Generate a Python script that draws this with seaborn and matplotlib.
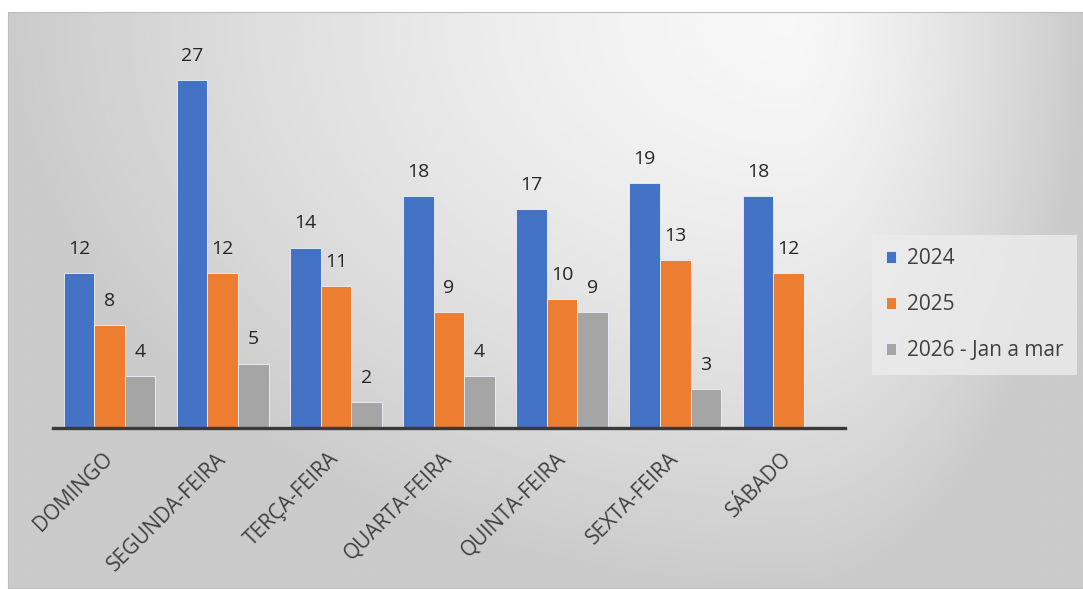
import numpy as np
import pandas as pd
import matplotlib
matplotlib.use("Agg")
import matplotlib.pyplot as plt
import seaborn as sns

dias = ["DOMINGO", "SEGUNDA-FEIRA", "TERÇA-FEIRA", "QUARTA-FEIRA",
        "QUINTA-FEIRA", "SEXTA-FEIRA", "SÁBADO"]
v2024 = [12, 27, 14, 18, 17, 19, 18]
v2025 = [8, 12, 11, 9, 10, 13, 12]
v2026 = [4, 5, 2, 4, 9, 3, np.nan]
series = ["2024", "2025", "2026 - Jan a mar"]
colors = ["#4472C4", "#ED7D31", "#A5A5A5"]

df = pd.DataFrame({
    "dia": dias * 3,
    "serie": [series[0]] * 7 + [series[1]] * 7 + [series[2]] * 7,
    "valor": v2024 + v2025 + v2026,
})

sns.set_theme(style="white")
plt.rcParams["font.family"] = ["Open Sans", "DejaVu Sans"]

W, H = 1083, 589
fig = plt.figure(figsize=(W / 100, H / 100), dpi=100)
fig.patch.set_facecolor("white")

# background panel with radial gradient
fx0, fy0, fx1, fy1 = 8, 12, 1083, 588
bg = fig.add_axes([fx0 / W, 1 - fy1 / H, (fx1 - fx0) / W, (fy1 - fy0) / H], zorder=-5)
xs = np.linspace(fx0, fx1, 400)
ys = np.linspace(fy0, fy1, 240)
X, Y = np.meshgrid(xs, ys)
cx, cy = 790, 20
U = np.where(X < cx, (X - cx) / (cx - fx0), (X - cx) / (fx1 - cx))
Vv = (Y - cy) / (fy1 - cy)
D = np.clip(np.sqrt(U ** 2 + Vv ** 2), 0, 1) ** 1.4
light, dark = 0.97, 0.795
img = light * (1 - D) + dark * D
bg.imshow(img, cmap="gray", vmin=0, vmax=1, aspect="auto",
          extent=[0, 1, 0, 1], interpolation="bilinear")
bg.set_xticks([]); bg.set_yticks([])
for s in bg.spines.values():
    s.set_color("#bdbdbd"); s.set_linewidth(0.8)

# main axes
ax_l, ax_r = 53, 845
ax_b = 428
ymax = 30
ppu = (428 - 80) / 27.0
ax_t = ax_b - ymax * ppu
ax = fig.add_axes([ax_l / W, 1 - ax_b / H, (ax_r - ax_l) / W, (ax_b - ax_t) / H])
ax.patch.set_alpha(0)

sns.barplot(data=df, x="dia", y="valor", hue="serie", hue_order=series,
            order=dias, palette=colors, width=0.81, ax=ax,
            edgecolor="#eef2fa", linewidth=0.6, saturation=1, errorbar=None)

ax.set_xlim(-0.5, 6.5)
ax.set_ylim(0, ymax)
for c in ax.containers:
    ax.bar_label(c, fmt="%g", padding=11, fontsize=14, color="#262626")

ax.set_xlabel(""); ax.set_ylabel("")
ax.set_yticks([])
for side in ["top", "right", "left"]:
    ax.spines[side].set_visible(False)
ax.spines["bottom"].set_color("#3a3a3a")
ax.spines["bottom"].set_linewidth(2.4)
ax.tick_params(axis="x", length=0, pad=20)
ax.set_xticks(range(len(dias)))
ax.set_xticklabels(dias, rotation=45, ha="right", va="center",
                   rotation_mode="anchor", fontsize=15, color="#404040")

leg = ax.legend(loc="center left", bbox_to_anchor=(872 / W, 1 - 305 / H),
                bbox_transform=fig.transFigure, frameon=True, fontsize=15,
                handlelength=0.5, handleheight=0.5, handletextpad=0.55,
                labelspacing=1.2, borderpad=0.65, borderaxespad=0,
                fancybox=False, labelcolor="#404040")
leg.get_frame().set_facecolor("#ececec")
leg.get_frame().set_edgecolor("none")
leg.get_frame().set_alpha(0.8)

fig.savefig("out.png", dpi=100)
